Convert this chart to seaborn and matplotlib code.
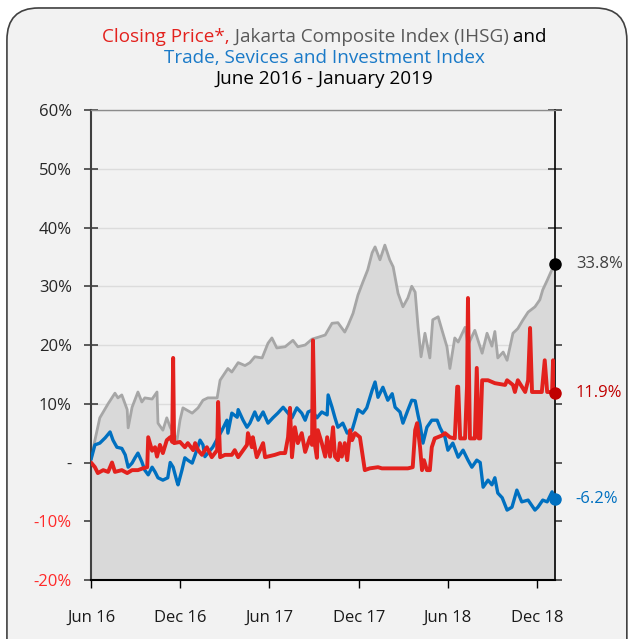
import numpy as np
import pandas as pd
import matplotlib
matplotlib.use("Agg")
import matplotlib.pyplot as plt
import seaborn as sns
from matplotlib.patches import FancyBboxPatch
from matplotlib.offsetbox import TextArea, HPacker, AnnotationBbox

# days since 1 June 2016, % change
ihsg_day = [0, 8, 18, 35, 49, 55, 63, 74, 76, 84, 96, 104, 110, 125, 135, 137, 147, 155, 162, 176,
            182, 188, 207, 219, 229, 239, 258, 264, 280, 288, 301, 315, 325, 335, 350, 362, 370, 380, 397, 413,
            423, 438, 452, 464, 479, 493, 505, 519, 526, 536, 546, 556, 566, 575, 581, 591, 601, 611, 618, 628,
            638, 648, 656, 663, 669, 675, 683, 693, 699, 710, 718, 728, 734, 744, 751, 765, 771, 785, 800, 810,
            820, 826, 832, 843, 851, 863, 873, 883, 894, 908, 918, 924, 933, 941, 949]
ihsg_pct = [0.5, 3.8, 7.6, 10.0, 11.8, 11.0, 11.5, 9.0, 5.9, 9.4, 12.0, 10.3, 11.0, 10.8, 12.0, 6.7, 5.5, 7.6, 6.0, 3.8,
            7.2, 9.3, 8.4, 9.3, 10.6, 11.0, 11.0, 14.0, 16.0, 15.4, 17.0, 16.5, 17.0, 18.0, 17.8, 20.3, 21.2, 19.5, 19.7, 20.8,
            19.7, 20.0, 21.0, 21.3, 21.7, 23.7, 23.8, 22.2, 23.4, 25.4, 28.5, 30.7, 32.8, 35.7, 36.7, 34.5, 37.0, 34.5, 33.3, 28.8,
            26.5, 28.0, 30.0, 29.0, 23.0, 18.0, 22.0, 17.8, 24.3, 24.8, 22.5, 19.7, 16.0, 21.2, 20.5, 23.0, 20.0, 22.5, 18.6, 22.0,
            19.8, 22.3, 17.8, 18.8, 17.4, 22.0, 22.8, 24.2, 25.6, 26.5, 27.7, 29.4, 31.0, 32.5, 33.8]

trade_day = [0, 8, 18, 29, 39, 45, 53, 63, 70, 76, 84, 90, 96, 104, 110, 117, 125, 131, 137, 147,
             157, 162, 168, 176, 178, 186, 192, 198, 207, 213, 223, 229, 233, 249, 268, 278, 280, 288, 299, 301,
             311, 319, 325, 335, 342, 352, 362, 372, 382, 393, 401, 411, 421, 431, 438, 444, 452, 462, 472, 483,
             485, 493, 499, 505, 515, 524, 534, 540, 546, 556, 564, 575, 581, 587, 597, 607, 616, 622, 632, 638,
             648, 656, 663, 669, 673, 679, 687, 697, 708, 714, 724, 730, 740, 751, 761, 771, 779, 789, 796, 802,
             812, 820, 826, 832, 841, 851, 861, 871, 881, 894, 908, 914, 924, 933, 943, 949]
trade_pct = [0.5, 3.0, 3.3, 4.2, 5.2, 3.8, 2.6, 2.4, 1.3, -0.8, -0.1, 0.8, 1.6, 0.1, -1.3, -2.1, -0.8, -1.6, -2.6, -3.0,
             -2.6, 0.0, -0.8, -3.3, -3.8, -1.3, 0.8, 0.4, -0.1, 1.3, 3.8, 3.0, 1.0, 2.6, 5.5, 7.2, 5.0, 8.4, 7.7, 9.0,
             7.2, 6.0, 6.7, 8.6, 7.2, 8.6, 6.7, 7.6, 8.4, 9.4, 8.6, 7.6, 9.3, 8.4, 7.2, 8.6, 8.9, 7.6, 8.6, 8.1,
             11.5, 9.4, 7.6, 6.0, 6.7, 5.0, 5.5, 7.2, 9.0, 8.4, 9.3, 12.3, 13.7, 11.1, 12.8, 10.6, 11.7, 9.4, 8.6, 6.7,
             8.9, 10.6, 10.5, 8.0, 6.5, 3.3, 6.0, 7.2, 7.2, 5.9, 4.3, 2.1, 3.3, 0.9, 2.1, 0.4, -0.8, 0.4, 0.0, -4.2,
             -3.0, -3.8, -2.6, -5.2, -6.0, -8.1, -7.6, -4.7, -6.7, -6.4, -8.1, -7.6, -6.4, -6.7, -5.0, -6.2]

close_day = [0, 8, 14, 25, 35, 43, 49, 63, 74, 84, 96, 106, 115, 117, 125, 131, 135, 141, 147, 155,
             162, 166, 168, 170, 182, 192, 198, 209, 213, 219, 227, 237, 247, 258, 260, 264, 274, 288, 294, 301,
             319, 321, 329, 331, 339, 352, 356, 376, 387, 397, 403, 407, 411, 417, 423, 431, 438, 448, 452, 454,
             458, 462, 464, 472, 479, 483, 489, 495, 499, 505, 509, 513, 519, 524, 530, 534, 540, 550, 556, 560,
             570, 587, 595, 616, 632, 648, 658, 663, 667, 673, 677, 681, 687, 693, 697, 703, 718, 724, 734, 744,
             749, 751, 755, 765, 769, 771, 775, 785, 789, 793, 796, 800, 812, 826, 847, 851, 863, 867, 873, 888,
             894, 898, 902, 922, 928, 933, 943, 945, 949]
close_pct = [0.0, -0.8, -1.8, -1.3, -1.6, 0.0, -1.6, -1.3, -1.8, -1.3, -1.3, -1.0, -0.8, 4.3, 2.0, 2.6, 1.0, 3.0, 1.6, 3.8,
             4.3, 3.5, 17.8, 3.3, 3.5, 2.6, 3.3, 2.1, 3.3, 2.1, 1.3, 2.6, 0.9, 2.1, 10.3, 0.9, 1.3, 1.3, 2.1, 0.9,
             3.0, 5.0, 2.6, 4.3, 0.9, 3.3, 0.9, 1.3, 1.6, 1.6, 4.3, 9.3, 0.9, 6.0, 3.3, 5.0, 1.8, 4.3, 3.0, 20.8,
             3.0, 0.8, 5.5, 3.3, 1.0, 4.3, 1.0, 6.0, 1.0, 0.4, 3.3, 1.0, 3.3, 0.4, 5.5, 3.8, 5.0, 4.3, 1.0, -1.3,
             -1.0, -0.8, -1.0, -1.0, -1.0, -1.0, -0.8, 5.5, 6.7, 2.6, -1.3, 0.4, -1.3, -1.3, 2.6, 4.1, 4.6, 5.0, 4.3, 4.1,
             12.9, 12.9, 4.1, 4.1, 12.9, 28.0, 4.1, 4.1, 16.1, 4.1, 4.1, 14.0, 14.0, 13.5, 13.2, 14.0, 13.2, 12.0, 14.0, 12.0,
             14.0, 22.9, 12.0, 12.0, 17.4, 12.0, 12.0, 17.4, 11.9]

tick_dates = ["2016-06-01", "2016-12-01", "2017-06-01", "2017-12-01", "2018-06-01", "2018-12-01"]
tick_labels = ["Jun 16", "Dec 16", "Jun 17", "Dec 17", "Jun 18", "Dec 18"]
y_ticks = [-20, -10, 0, 10, 20, 30, 40, 50, 60]
y_labels = ["-20%", "-10%", "-", "10%", "20%", "30%", "40%", "50%", "60%"]

RED = "#e3211d"
BLUE = "#0070c0"
GRAY_LINE = "#a6a6a6"
GRAY_FILL = "#d9d9d9"
TITLE_SIZE = 13.6

start = pd.Timestamp("2016-06-01")


def to_dates(days):
    return start + pd.to_timedelta(days, unit="D")


ihsg_dates = to_dates(ihsg_day)
trade_dates = to_dates(trade_day)
close_dates = to_dates(close_day)

sns.set_style("white")
plt.rcParams['font.family'] = ['Open Sans', 'DejaVu Sans']

fig = plt.figure(figsize=(6.3, 6.39), dpi=100, facecolor="white")
panel = FancyBboxPatch((0.011, -0.05), 0.984, 1.0375,
                       boxstyle="round,pad=0,rounding_size=0.05",
                       transform=fig.transFigure, facecolor="#f2f2f2",
                       edgecolor="#404040", linewidth=1.2, zorder=-5)
fig.patches.append(panel)

ax = fig.add_axes([91 / 630, 1 - 580 / 639, 464 / 630, 470 / 639])
ax.set_facecolor("none")
ax.set_zorder(2)

ax.fill_between(ihsg_dates, ihsg_pct, -20, color=GRAY_FILL, linewidth=0, zorder=1)
sns.lineplot(x=ihsg_dates, y=ihsg_pct, color=GRAY_LINE, linewidth=2, estimator=None, ax=ax, zorder=2)
sns.lineplot(x=trade_dates, y=trade_pct, color=BLUE, linewidth=2.4, estimator=None, ax=ax, zorder=3)
sns.lineplot(x=close_dates, y=close_pct, color=RED, linewidth=2.8, estimator=None, ax=ax, zorder=4)

# end markers + labels
ends = [(ihsg_dates[-1], ihsg_pct[-1], "black", "#404040"),
        (close_dates[-1], close_pct[-1], "#c00000", "#c00000"),
        (trade_dates[-1], trade_pct[-1], BLUE, BLUE)]
for d, v, mc, tc in ends:
    ax.plot([d], [v], "o", color=mc, markersize=8, zorder=6, clip_on=False)
    ax.annotate(f"{v:.1f}%", xy=(d, v), xytext=(15, 0), textcoords="offset points",
                va="center", ha="left", color=tc, fontsize=12, annotation_clip=False)

ax.set_xlim(start, to_dates(949))
ax.set_ylim(-20, 60)
ax.set_yticks(y_ticks)
ax.set_yticklabels(y_labels)
ax.set_xticks(pd.to_datetime(tick_dates))
ax.set_xticklabels(tick_labels)
for lbl, v in zip(ax.get_yticklabels(), y_ticks):
    lbl.set_color("#ff2a2a" if v < 0 else "#262626")

ax.yaxis.grid(True, color="#dcdcdc", linewidth=1)
ax.set_axisbelow(True)
ax.set_xlabel("")
ax.set_ylabel("")

for side in ["left", "bottom", "right"]:
    ax.spines[side].set_visible(True)
ax.spines["left"].set_color("#404040")
ax.spines["left"].set_linewidth(1.5)
ax.spines["bottom"].set_color("black")
ax.spines["bottom"].set_linewidth(1.5)
ax.spines["right"].set_color("black")
ax.spines["right"].set_linewidth(1.2)
ax.spines["top"].set_color("#8c8c8c")
ax.spines["top"].set_linewidth(1)

ax.tick_params(axis="y", direction="inout", length=9.5, width=1.2, left=True, right=True,
               labelsize=12, pad=9, color="#404040")
ax.tick_params(axis="x", direction="inout", length=11, width=1, bottom=True,
               labelsize=12, pad=16, color="black", labelcolor="#1a1a1a")

# title
t1 = [TextArea("Closing Price*,", textprops=dict(color=RED, fontsize=TITLE_SIZE)),
      TextArea(" Jakarta Composite Index (IHSG)", textprops=dict(color="#595959", fontsize=TITLE_SIZE)),
      TextArea(" and", textprops=dict(color="black", fontsize=TITLE_SIZE))]
line1 = HPacker(children=t1, align="baseline", pad=0, sep=0)
fig.add_artist(AnnotationBbox(line1, (0.515, 1 - 37 / 639), xycoords="figure fraction",
                              frameon=False, box_alignment=(0.5, 0.5)))
fig.text(0.515, 1 - 58 / 639, "Trade, Sevices and Investment Index", color="#1a7ac8",
         fontsize=TITLE_SIZE, ha="center", va="center")
fig.text(0.515, 1 - 79 / 639, "June 2016 - January 2019", color="black",
         fontsize=TITLE_SIZE, ha="center", va="center")

fig.savefig("out.png", dpi=100, facecolor="white")
